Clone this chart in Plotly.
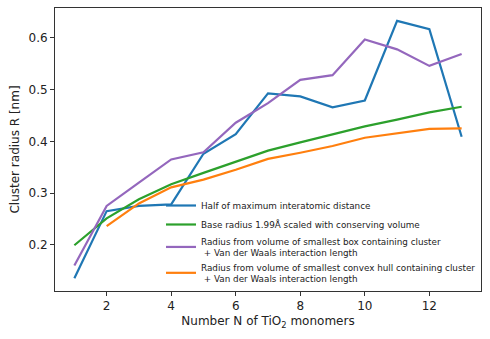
import plotly.graph_objects as go

# Number of TiO2 monomers
n_monomers = [1, 2, 3, 4, 5, 6, 7, 8, 9, 10, 11, 12, 13]

# Cluster radius estimates [nm]
half_max_dist = [0.135, 0.265, 0.275, 0.278, 0.376, 0.414, 0.493, 0.487,
                 0.466, 0.479, 0.633, 0.617, 0.409]
base_radius = [0.199, 0.251, 0.288, 0.317, 0.339, 0.360, 0.382, 0.398,
               0.414, 0.429, 0.442, 0.456, 0.467]
box_radius = [0.160, 0.275, 0.320, 0.365, 0.379, 0.436, 0.474, 0.519,
              0.528, 0.597, 0.578, 0.546, 0.569]
hull_n = [2, 3, 4, 5, 6, 7, 8, 9, 10, 11, 12, 13]
hull_radius = [0.236, 0.280, 0.311, 0.326, 0.345, 0.366, 0.378, 0.391,
               0.407, 0.416, 0.424, 0.425]

series = [
    (n_monomers, half_max_dist, "#1f77b4", "Half of maximum interatomic distance"),
    (n_monomers, base_radius, "#2ca02c", "Base radius 1.99Å scaled with conserving volume"),
    (n_monomers, box_radius, "#9467bd",
     "Radius from volume of smallest box containing cluster<br> + Van der Waals interaction length"),
    (hull_n, hull_radius, "#ff7f0e",
     "Radius from volume of smallest convex hull containing cluster<br> + Van der Waals interaction length"),
]

fig = go.Figure()
for x, y, color, name in series:
    fig.add_trace(
        go.Scatter(x=x, y=y, mode="lines", name=name,
                   line=dict(color=color, width=2.2))
    )

axis_style = dict(
    showline=True, linecolor="#333333", linewidth=1, mirror=True,
    ticks="outside", ticklen=4, tickcolor="#333333",
    showgrid=False, zeroline=False, automargin=False,
    tickfont=dict(size=12, color="#222222"),
)

fig.update_layout(
    width=490, height=339,
    margin=dict(l=55, r=9, t=8, b=48),
    plot_bgcolor="white", paper_bgcolor="white",
    font=dict(family="DejaVu Sans", color="#222222"),
    showlegend=True,
    legend=dict(
        x=1.0, xanchor="right", y=0.0, yanchor="bottom",
        font=dict(size=8.8), bgcolor="rgba(255,255,255,0)",
        tracegroupgap=0, itemwidth=30,
    ),
)
fig.update_xaxes(range=[0.4, 13.6], tickvals=[2, 4, 6, 8, 10, 12],
                 title=dict(text="Number N of TiO<sub>2</sub> monomers",
                            font=dict(size=12), standoff=4),
                 **axis_style)
fig.update_yaxes(range=[0.1105, 0.658], tickvals=[0.2, 0.3, 0.4, 0.5, 0.6],
                 title=dict(text="Cluster radius R [nm]", font=dict(size=12),
                            standoff=6),
                 **axis_style)

# page has a default 8px body margin; drop it so the figure sits at 0,0
fig.write_html("out.html", config={"displayModeBar": False},
               post_script="document.body.style.margin='0';")
